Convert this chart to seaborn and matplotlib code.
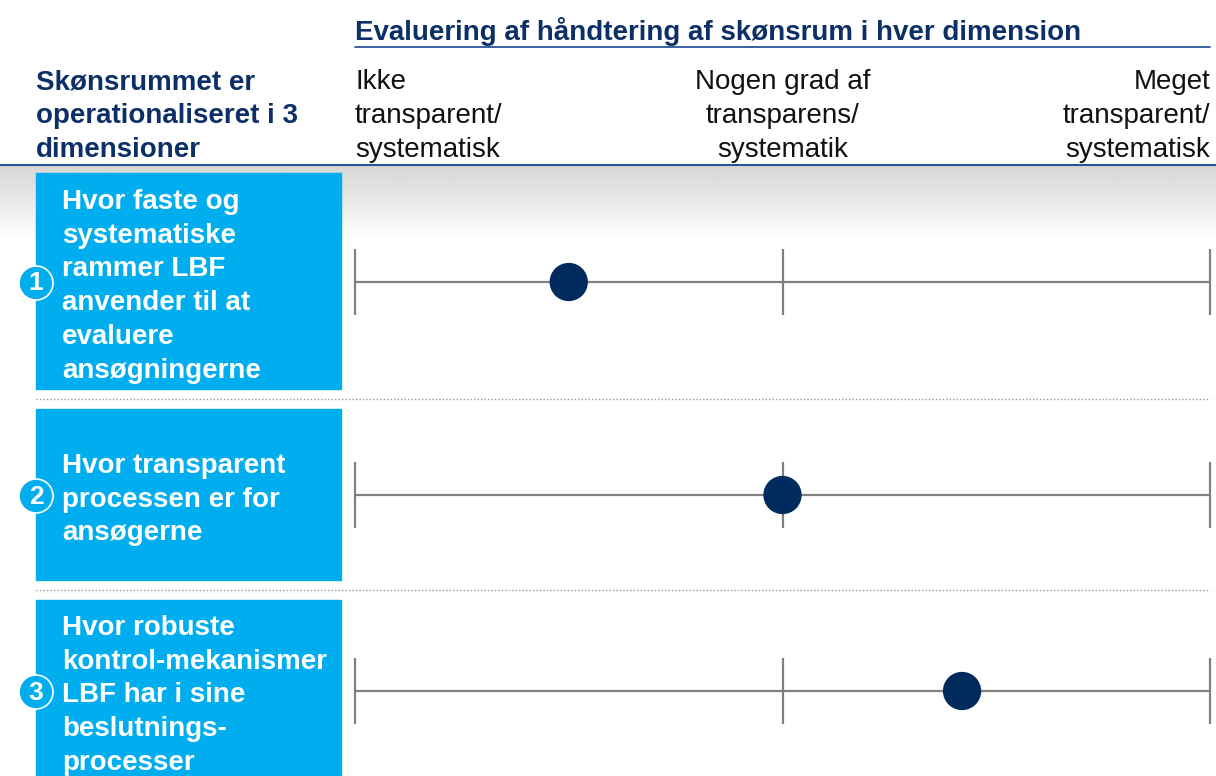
import numpy as np
import matplotlib
matplotlib.use("Agg")
import matplotlib.pyplot as plt
import seaborn as sns
from matplotlib.patches import Rectangle, Circle

sns.set_theme(style="white")
plt.rcParams["font.family"] = ["Liberation Sans", "DejaVu Sans"]

# Data
title = "Evaluering af håndtering af skønsrum i hver dimension"
left_header = ["Skønsrummet er", "operationaliseret i 3", "dimensioner"]
scale_labels = [
    ["Ikke", "transparent/", "systematisk"],
    ["Nogen grad af", "transparens/", "systematik"],
    ["Meget", "transparent/", "systematisk"],
]
scale_ticks = [0, 50, 100]
dimensions = [
    ["Hvor faste og", "systematiske", "rammer LBF", "anvender til at", "evaluere", "ansøgningerne"],
    ["Hvor transparent", "processen er for", "ansøgerne"],
    ["Hvor robuste", "kontrol-mekanismer", "LBF har i sine", "beslutnings-", "processer"],
]
numbers = ["1", "2", "3"]
scores = [25, 50, 71]

# Colours
NAVY = "#0b2f66"
DOT = "#002b5c"
BLUE = "#00adef"
GREY = "#808080"
FS = 20

W, H = 1216, 776
fig = plt.figure(figsize=(W / 100, H / 100), dpi=100)
ax = fig.add_axes([0, 0, 1, 1])
ax.set_xlim(0, W)
ax.set_ylim(H, 0)
ax.axis("off")

# Gradient band under header
grad = np.linspace(0.84, 1.0, 100).reshape(-1, 1)
ax.imshow(grad, cmap="gray", vmin=0, vmax=1, extent=[0, W, 240, 166], aspect="auto", zorder=0)

# Title and rules
ax.text(355, 40, title, fontsize=FS, fontweight="bold", color=NAVY, ha="left", va="baseline")
ax.plot([355, 1210], [47, 47], color="#2a5597", lw=1.3)
ax.plot([0, W], [165, 165], color="#2a5597", lw=1.5)

# Header texts
base = [89, 123, 157]
for line, y in zip(left_header, base):
    ax.text(36, y, line, fontsize=FS, fontweight="bold", color=NAVY, ha="left", va="baseline")
for lab, (x, ha) in zip(scale_labels, [(355, "left"), (783, "center"), (1210, "right")]):
    for line, y in zip(lab, base):
        ax.text(x, y, line, fontsize=FS, color="#111111", ha=ha, va="baseline")

# Row layout
boxes = [(173, 389), (409, 580), (600, 790)]
first_base = [209, 473, 635]
row_y = [282, 495, 691]
circle_y = [283, 496, 692]

for i in range(3):
    y0, y1 = boxes[i]
    ax.add_patch(Rectangle((36, y0), 305, y1 - y0, color=BLUE, zorder=2))
    for j, line in enumerate(dimensions[i]):
        ax.text(62, first_base[i] + j * 33.7, line, fontsize=FS, fontweight="bold",
                color="white", ha="left", va="baseline", zorder=4)
    ax.add_patch(Circle((36, circle_y[i]), 17, facecolor=BLUE, edgecolor="white", lw=1.2, zorder=3))
    ax.text(36, circle_y[i] + 7.5, numbers[i], fontsize=19, fontweight="bold", color="white",
            ha="center", va="baseline", zorder=4)

for y in [399, 590]:
    ax.plot([36, 1210], [y, y], color="#9a9a9a", lw=1, ls=(0, (1, 1.5)), zorder=1)

# Scale rows (data axes)
for i, score in enumerate(scores):
    yc = row_y[i]
    sax = fig.add_axes([355 / W, (H - yc - 40) / H, 855 / W, 80 / H])
    sax.set_xlim(0, 100)
    sax.set_ylim(-40, 40)
    sax.axis("off")
    sax.patch.set_alpha(0)
    sax.plot([scale_ticks[0], scale_ticks[-1]], [0, 0], color=GREY, lw=1.6, clip_on=False)
    sax.vlines(scale_ticks, -33, 33, color=GREY, lw=1.6, clip_on=False)
    sns.scatterplot(x=[score], y=[0], ax=sax, s=760, color=DOT, edgecolor="none",
                    zorder=5, clip_on=False, legend=False)

fig.savefig("out.png", dpi=100)
